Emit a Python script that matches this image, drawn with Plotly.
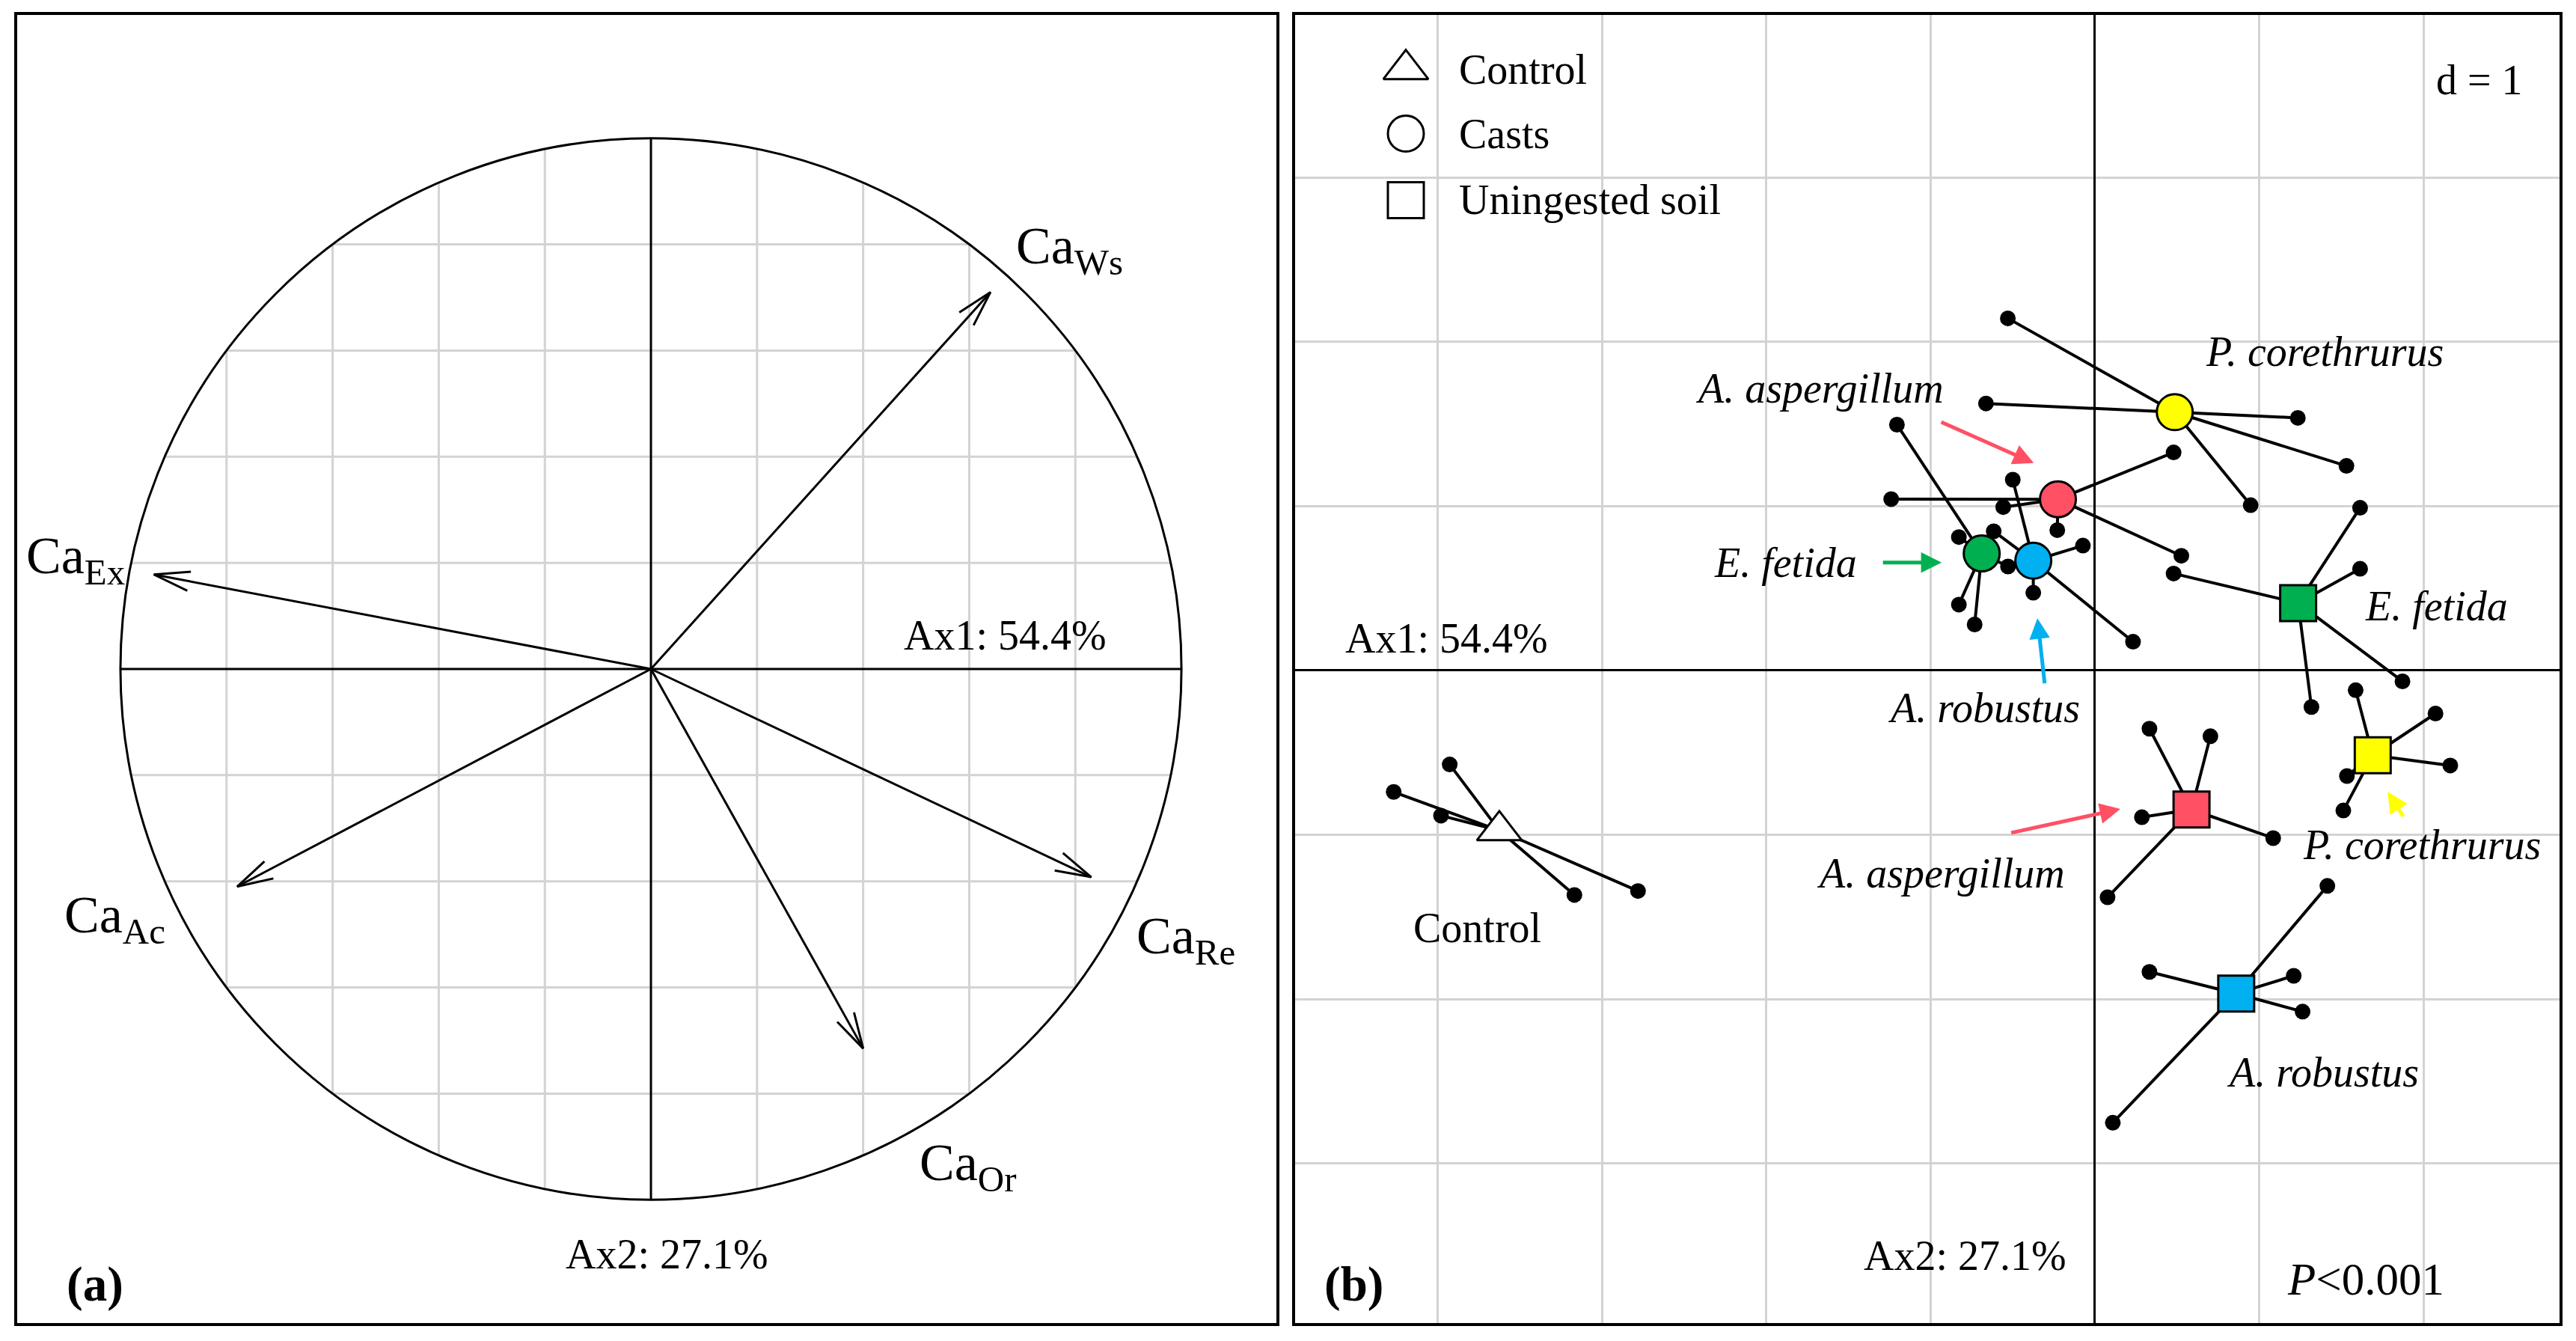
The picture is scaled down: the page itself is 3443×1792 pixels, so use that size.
import numpy as np
import plotly.graph_objects as go

# ---------------- panel (a): correlation circle ----------------
var_labels = ['Ca<sub>Ws</sub>', 'Ca<sub>Ex</sub>', 'Ca<sub>Ac</sub>', 'Ca<sub>Re</sub>', 'Ca<sub>Or</sub>']
var_ax1 = [0.640, -0.937, -0.780, 0.830, 0.400]
var_ax2 = [0.710, 0.178, -0.410, -0.392, -0.715]
var_lab_x = [0.686, -1.180, -1.109, 0.913, 0.503]
var_lab_y = [0.790, 0.206, -0.471, -0.511, -0.938]
grid_a = [-0.8, -0.6, -0.4, -0.2, 0.2, 0.4, 0.6, 0.8]

# ---------------- panel (b): group centroids and samples ----------------
group_names = ['Control',
               'A. aspergillum casts', 'A. robustus casts', 'E. fetida casts', 'P. corethrurus casts',
               'A. aspergillum soil', 'A. robustus soil', 'E. fetida soil', 'P. corethrurus soil']
RED, BLUE, GREEN, YELLOW = '#FF5064', '#00B0F0', '#00B050', '#FFFF00'
group_symbol = ['triangle-up', 'circle', 'circle', 'circle', 'circle',
                'square', 'square', 'square', 'square']
group_color = ['white', RED, BLUE, GREEN, YELLOW, RED, BLUE, GREEN, YELLOW]
centroid_x = [-3.625, -0.225, -0.375, -0.689, 0.486, 0.588, 0.860, 1.237, 1.691]
centroid_y = [-0.974, 1.042, 0.668, 0.712, 1.572, -0.846, -1.966, 0.410, -0.516]
sample_x = [
    [-3.927, -4.268, -3.980, -3.168, -2.781],
    [0.479, -1.240, -0.229, 0.526, -0.558],
    [-0.500, -0.073, -0.375, 0.232, -0.616],
    [-1.205, -0.828, -0.828, -0.732, -0.529],
    [-0.530, -0.663, 1.235, 1.531, 0.948],
    [0.332, 0.703, 0.286, 1.085, 0.077],
    [1.415, 0.332, 1.210, 1.264, 0.109],
    [1.614, 1.614, 0.479, 1.872, 1.318],
    [1.587, 2.073, 2.163, 1.534, 1.512],
]
sample_y = [
    [-0.572, -0.739, -0.883, -1.366, -1.342],
    [1.327, 1.043, 0.854, 0.698, 0.994],
    [1.161, 0.760, 0.473, 0.175, 0.847],
    [1.496, 0.812, 0.401, 0.280, 0.633],
    [2.143, 1.625, 1.537, 1.245, 1.006],
    [-0.354, -0.400, -0.893, -1.020, -1.380],
    [-1.311, -1.834, -1.858, -2.076, -2.752],
    [0.990, 0.619, 0.590, -0.066, -0.222],
    [-0.120, -0.262, -0.578, -0.642, -0.852],
]

# group labels in panel (b)
lab_text = ['Control', '<i>A. aspergillum</i>', '<i>E. fetida</i>', '<i>A. robustus</i>',
            '<i>P. corethrurus</i>', '<i>E. fetida</i>', '<i>P. corethrurus</i>',
            '<i>A. aspergillum</i>', '<i>A. robustus</i>']
lab_x = [-3.757, -1.675, -1.885, -0.676, 1.400, 2.077, 1.992, -0.940, 1.386]
lab_y = [-1.567, 1.717, 0.656, -0.229, 1.941, 0.390, -1.061, -1.233, -2.445]

# coloured pointer arrows (tail -> head)
ptr_color = [RED, GREEN, BLUE, RED, YELLOW]
ptr_x0 = [-0.942, -1.297, -0.305, -0.516, 1.882]
ptr_y0 = [1.515, 0.657, -0.085, -0.989, -0.895]
ptr_x1 = [-0.372, -0.933, -0.350, 0.155, 1.782]
ptr_y1 = [1.262, 0.657, 0.318, -0.843, -0.739]

# legend
legend_symbol = ['triangle-up', 'circle', 'square']
legend_text = ['Control', 'Casts', 'Uningested soil']
legend_y = [3.658, 3.267, 2.862]

FONT = 'Liberation Serif'
W, H = 3443, 1792

fig = go.Figure()

# --- panel (a) grid clipped to the circle ---
gx, gy = [], []
for g in grid_a:
    h = float(np.sqrt(1 - g ** 2))
    gx += [g, g, None, -h, h, None]
    gy += [-h, h, None, g, g, None]
fig.add_trace(go.Scatter(x=gx, y=gy, mode='lines', line=dict(color='#d3d3d3', width=3),
                         hoverinfo='skip', xaxis='x', yaxis='y'))

# --- panel (a) arrows ---
head_len, head_ang = 0.07, np.radians(15)
arx, ary = [], []
for x, y in zip(var_ax1, var_ax2):
    th = np.arctan2(y, x)
    arx += [0, x, None]
    ary += [0, y, None]
    arx += [x - head_len * np.cos(th + head_ang), x, x - head_len * np.cos(th - head_ang), None]
    ary += [y - head_len * np.sin(th + head_ang), y, y - head_len * np.sin(th - head_ang), None]
fig.add_trace(go.Scatter(x=arx, y=ary, mode='lines', line=dict(color='black', width=3),
                         hoverinfo='skip', xaxis='x', yaxis='y'))

# --- panel (b) stars ---
sx, sy, dx, dy = [], [], [], []
for cx, cy, xs, ys in zip(centroid_x, centroid_y, sample_x, sample_y):
    for px, py in zip(xs, ys):
        sx += [cx, px, None]
        sy += [cy, py, None]
    dx += xs
    dy += ys
fig.add_trace(go.Scatter(x=sx, y=sy, mode='lines', line=dict(color='black', width=4),
                         hoverinfo='skip', xaxis='x2', yaxis='y2'))
fig.add_trace(go.Scatter(x=dx, y=dy, mode='markers', marker=dict(color='black', size=21, opacity=1),
                         hoverinfo='skip', xaxis='x2', yaxis='y2'))
fig.add_trace(go.Scatter(x=centroid_x, y=centroid_y, mode='markers',
                         marker=dict(symbol=group_symbol, color=group_color, opacity=1,
                                     size=[52, 48, 48, 48, 48, 48, 48, 48, 48],
                                     line=dict(color='black', width=3)),
                         text=group_names, hoverinfo='text', xaxis='x2', yaxis='y2'))

# --- panel (b) legend ---
fig.add_trace(go.Scatter(x=[-4.194] * 3, y=legend_y, mode='markers',
                         marker=dict(symbol=legend_symbol, color='white', size=[52, 48, 48], opacity=1,
                                     line=dict(color='black', width=3)),
                         hoverinfo='skip', xaxis='x2', yaxis='y2'))

annotations = []
txt = dict(family=FONT, color='black', size=56)

# panel (a) texts
for t, x, y in zip(var_labels, var_lab_x, var_lab_y):
    annotations.append(dict(x=x, y=y, xref='x', yref='y', text=t, showarrow=False,
                            xanchor='left', yanchor='middle', font=dict(family=FONT, size=70, color='black')))
annotations.append(dict(x=0.862, y=0.063, xref='x', yref='y', text='Ax1: 54.4%', showarrow=False,
                        xanchor='right', yanchor='middle', font=txt))
annotations.append(dict(x=0.030, y=-1.103, xref='x', yref='y', text='Ax2: 27.1%', showarrow=False,
                        xanchor='center', yanchor='middle', font=txt))
annotations.append(dict(x=127 / W, y=1 - 1716 / H, xref='paper', yref='paper', text='<b>(a)</b>',
                        showarrow=False, xanchor='center', yanchor='middle',
                        font=dict(family=FONT, size=65, color='black')))

# panel (b) texts
for t, x, y in zip(lab_text, lab_x, lab_y):
    annotations.append(dict(x=x, y=y, xref='x2', yref='y2', text=t, showarrow=False,
                            xanchor='center', yanchor='middle', font=txt))
for t, y in zip(legend_text, legend_y):
    annotations.append(dict(x=-3.879, y=y, xref='x2', yref='y2', text=t, showarrow=False,
                            xanchor='left', yanchor='middle', font=txt))
annotations.append(dict(x=2.612, y=3.593, xref='x2', yref='y2', text='d = 1', showarrow=False,
                        xanchor='right', yanchor='middle', font=dict(family=FONT, size=56, color='black')))
annotations.append(dict(x=-4.570, y=0.198, xref='x2', yref='y2', text='Ax1: 54.4%', showarrow=False,
                        xanchor='left', yanchor='middle', font=txt))
annotations.append(dict(x=-0.165, y=-3.559, xref='x2', yref='y2', text='Ax2: 27.1%', showarrow=False,
                        xanchor='right', yanchor='middle', font=txt))
annotations.append(dict(x=1.650, y=-3.705, xref='x2', yref='y2', text='<i>P</i>&lt;0.001', showarrow=False,
                        xanchor='center', yanchor='middle', font=dict(family=FONT, size=61, color='black')))
annotations.append(dict(x=1809 / W, y=1 - 1716 / H, xref='paper', yref='paper', text='<b>(b)</b>',
                        showarrow=False, xanchor='center', yanchor='middle',
                        font=dict(family=FONT, size=65, color='black')))

# coloured pointer arrows
for c, x0, y0, x1, y1 in zip(ptr_color, ptr_x0, ptr_y0, ptr_x1, ptr_y1):
    annotations.append(dict(x=x1, y=y1, ax=x0, ay=y0, xref='x2', yref='y2', axref='x2', ayref='y2',
                            text='', showarrow=True, arrowhead=2, arrowsize=1.1, arrowwidth=5,
                            arrowcolor=c, standoff=0))

shapes = [
    dict(type='circle', xref='x', yref='y', x0=-1, y0=-1, x1=1, y1=1, line=dict(color='black', width=3)),
    dict(type='line', xref='x', yref='y', x0=-1, y0=0, x1=1, y1=0, line=dict(color='black', width=3)),
    dict(type='line', xref='x', yref='y', x0=0, y0=-1, x1=0, y1=1, line=dict(color='black', width=3)),
]

frame = dict(showline=True, mirror=True, linecolor='black', linewidth=4, ticks='',
             showticklabels=False, fixedrange=True)
fig.update_layout(
    width=W, height=H, margin=dict(l=0, r=0, t=0, b=0),
    paper_bgcolor='white', plot_bgcolor='white', showlegend=False,
    xaxis=dict(domain=[23 / W, 1706 / W], range=[-1.1946, 1.1790], showgrid=False, zeroline=False, **frame),
    yaxis=dict(domain=[1 - 1768 / H, 1 - 20 / H], range=[-1.2323, 1.2323], showgrid=False, zeroline=False, **frame),
    xaxis2=dict(domain=[1731 / W, 3421 / W], range=[-4.868, 2.828], dtick=1, tick0=0,
                showgrid=True, gridcolor='#d3d3d3', gridwidth=3,
                zeroline=True, zerolinecolor='black', zerolinewidth=3, anchor='y2', **frame),
    yaxis2=dict(domain=[1 - 1768 / H, 1 - 20 / H], range=[-3.971, 3.989], dtick=1, tick0=0,
                showgrid=True, gridcolor='#d3d3d3', gridwidth=3,
                zeroline=True, zerolinecolor='black', zerolinewidth=3, anchor='x2', **frame),
    annotations=annotations,
    shapes=shapes,
)

fig.write_html('out.html', config={'displayModeBar': False},
               post_script="document.body.style.margin='0';")
